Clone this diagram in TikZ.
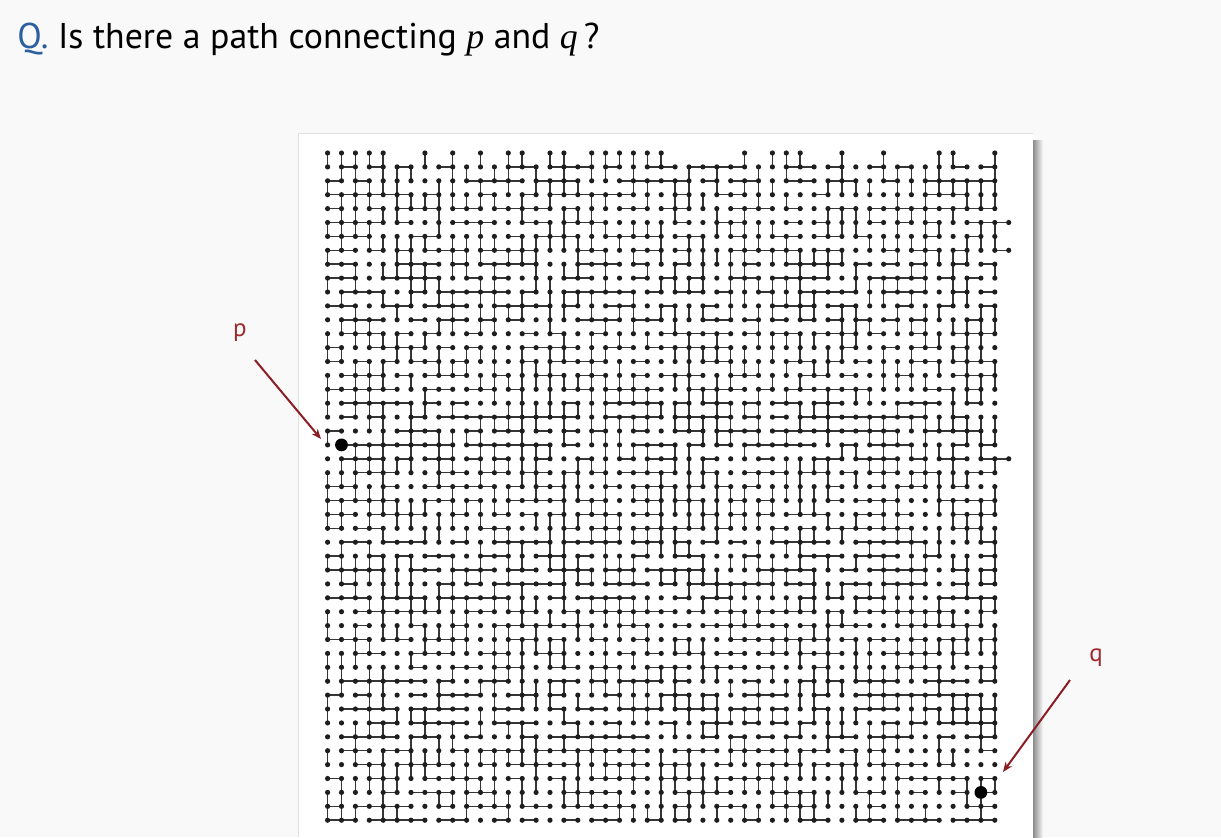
\documentclass[tikz,border=0pt]{standalone}
\usepackage{fontspec}
\setmainfont{PT Sans}
\newfontfamily\serifit{Liberation Serif}
\usetikzlibrary{arrows.meta}
\definecolor{qblue}{HTML}{2B5F9E}
\definecolor{arrowred}{HTML}{8B1E24}
\definecolor{labred}{HTML}{9E2A2F}
\definecolor{bg}{HTML}{F9F9F9}
\definecolor{ink}{HTML}{1E1E1E}
\begin{document}
\begin{tikzpicture}[x=0.5pt,y=-0.5pt,
  edge/.style={line width=0.75pt, draw=ink!90},
  gdot/.style={fill=ink},
  bigdot/.style={circle, fill=black, inner sep=0pt, minimum size=6.4pt},
  lab/.style={text=labred, font=\fontsize{12.5}{14}\selectfont, inner sep=0pt},
  pointer/.style={draw=arrowred, line width=1pt, -{Stealth[length=5pt,width=4pt]}}]
\useasboundingbox (0,0) rectangle (1221,837);
\fill[bg] (0,0) rectangle (1221,837);
% panel with shadow
\shade[left color=black!45, right color=bg] (1033,140) rectangle (1043,837);
\fill[white] (298,133) rectangle (1033,837);
\draw[black!12, line width=0.5pt] (298,837) -- (298,133) -- (1033,133);
% title
\node[anchor=base west, inner sep=0pt, font=\fontsize{17.9}{21}\selectfont] (title) at (17,48)
  {\textcolor{qblue}{Q.} Is there a path connecting {\serifit\itshape p} and {\serifit\itshape q}\,?};
% grid
\begin{scope}[shift={(327.6,153)}, x=6.95pt, y=-6.95pt]
\pgfmathsetseed{4711}
% horizontal edges
\foreach \i in {1,...,48}{
  \foreach \j in {0,...,47}{
    \pgfmathtruncatemacro\hit{rnd<0.56}
    \ifnum\hit=1 \draw[edge] (\j,\i) -- (\j+1,\i); \fi
  }
  \pgfmathtruncatemacro\hit{rnd<0.2}
  \ifnum\hit=1 \draw[edge] (48,\i) -- (49,\i); \fill[gdot] (49,\i) circle (1.3pt); \fi
}
% vertical edges
\foreach \i in {0,...,47}{
  \foreach \j in {0,...,48}{
    \pgfmathtruncatemacro\hit{rnd<0.56}
    \ifnum\hit=1 \draw[edge] (\j,\i) -- (\j,\i+1);
      \ifnum\i=0 \fill[gdot] (\j,0) circle (1.3pt); \fi
    \fi
  }
}
% dots
\foreach \i in {1,...,48}{
  \foreach \j in {0,...,48}{
    \fill[gdot] (\j,\i) circle (1.3pt);
  }
}
\node[bigdot] (p) at (1,21) {};
\node[bigdot] (q) at (47,46) {};
\end{scope}
% labels and pointers
\node[lab] (plab) at (240,333) {p};
\node[lab] (qlab) at (1096,658) {q};
\coordinate (pa) at (255,360);
\coordinate (pb) at (321,439);
\coordinate (qa) at (1070,680);
\coordinate (qb) at (1003,772);
\draw[pointer] (pa) -- (pb);
\draw[pointer] (qa) -- (qb);
\end{tikzpicture}
\end{document}
